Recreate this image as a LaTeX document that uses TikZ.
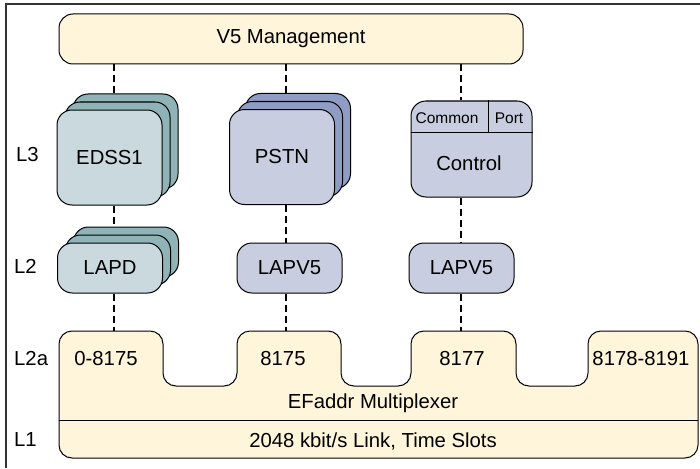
\documentclass[tikz,border=0pt]{standalone}
\usepackage{fontspec}
\setmainfont{Liberation Sans}
\usetikzlibrary{positioning,calc}

\definecolor{cream}{HTML}{FFF5DA}
\definecolor{tealfront}{HTML}{C9D9DD}
\definecolor{tealback}{HTML}{8FB3B7}
\definecolor{lavfront}{HTML}{C9CDE0}
\definecolor{lavback}{HTML}{8F9DC5}

\begin{document}
\begin{tikzpicture}[x=1pt,y=-1pt,font=\fontsize{20.3}{24}\selectfont,
 box/.style={draw,line width=1pt,rounded corners=15pt,inner sep=0pt},
 l3box/.style={box,minimum width=105pt,minimum height=95pt},
 l2box/.style={box,minimum width=105pt,minimum height=50pt},
 lay/.style={anchor=west,inner sep=0pt},
 link/.style={line width=2.7pt,dash pattern=on 7pt off 4pt}]
\useasboundingbox (0,0) rectangle (700,468);
% frame, cut off at right and bottom
\draw[line width=1.6pt,black!80] (6,468) -- (6,4) -- (700,4);

% management
\node[box,rounded corners=14pt,fill=cream,minimum width=464pt,minimum height=50pt] (v5) at (291,39) {V5 Management};

% layer 3
\node[l3box,fill=tealback] (edss3) at (125.5,141.5) {};
\node[l3box,fill=tealback] (edss2) at (117.5,149.5) {};
\node[l3box,fill=tealfront] (edss) at (109.5,157.5) {EDSS1};
\node[l3box,fill=lavback] (pstn3) at (298,141) {};
\node[l3box,fill=lavback] (pstn2) at (290,149) {};
\node[l3box,fill=lavfront] (pstn) at (282,157) {PSTN};
\node[box,fill=lavfront,minimum width=121pt,minimum height=96pt] (ctrl) at (471.5,149) {};
\draw[line width=0.8pt] (ctrl.west |- 0,132) -- (ctrl.east |- 0,132);
\draw[line width=0.8pt] (488,0 |- ctrl.north) -- (488,132);
\node[font=\fontsize{15.5}{18}\selectfont] (common) at (447,118) {Common};
\node[font=\fontsize{15.5}{18}\selectfont] (port) at (509,118) {Port};
\node (control) at (469,163) {Control};

% layer 2
\node[l2box,fill=tealback] (lapd3) at (126,252) {};
\node[l2box,fill=tealback] (lapd2) at (118,260) {};
\node[l2box,fill=tealfront] (lapd) at (110,268) {LAPD};
\node[l2box,fill=lavfront] (lapva) at (289.5,268) {LAPV5};
\node[l2box,fill=lavfront] (lapvb) at (461.5,268) {LAPV5};

% multiplexer
\draw[line width=1pt,fill=cream,rounded corners=13pt]
 (59,458) -- (59,331) -- (163,331) -- (163,386) -- (237,386) -- (237,331)
 -- (341,331) -- (341,386) -- (411,386) -- (411,331) -- (516,331) -- (516,386)
 -- (588,386) -- (588,331) -- (698,331) -- (698,458) -- cycle;
\draw[line width=1pt] (59,420) -- (698,420);
\node (ts1) at (106,359) {0-8175};
\node (ts2) at (283,359) {8175};
\node (ts3) at (462,359) {8177};
\node (ts4) at (641,359) {8178-8191};
\node (mux) at (373,403) {EFaddr Multiplexer};
\node (link) at (373,441) {2048 kbit/s Link, Time Slots};

% layer names
\node[lay] (n3) at (16,155) {L3};
\node[lay] (n2) at (14,266) {L2};
\node[lay] (n2a) at (14,359) {L2a};
\node[lay] (n1) at (14,440) {L1};

% connections
\coordinate (c1) at (114,0);
\coordinate (c2) at (286,0);
\coordinate (c3) at (461,0);
\coordinate (t1) at (114,331);
\coordinate (t2) at (286,331);
\coordinate (t3) at (461,331);
\draw[link] (v5.south -| c1) -- (edss3.north -| c1);
\draw[link] (v5.south -| c2) -- (pstn3.north -| c2);
\draw[link] (v5.south -| c3) -- (ctrl.north -| c3);
\draw[link] (edss.south -| c1) -- (lapd3.north -| c1);
\draw[link] (pstn.south -| c2) -- (lapva.north -| c2);
\draw[link] (ctrl.south -| c3) -- (lapvb.north -| c3);
\draw[link] (lapd.south -| c1) -- (t1);
\draw[link] (lapva.south -| c2) -- (t2);
\draw[link] (lapvb.south -| c3) -- (t3);
\end{tikzpicture}
\end{document}
